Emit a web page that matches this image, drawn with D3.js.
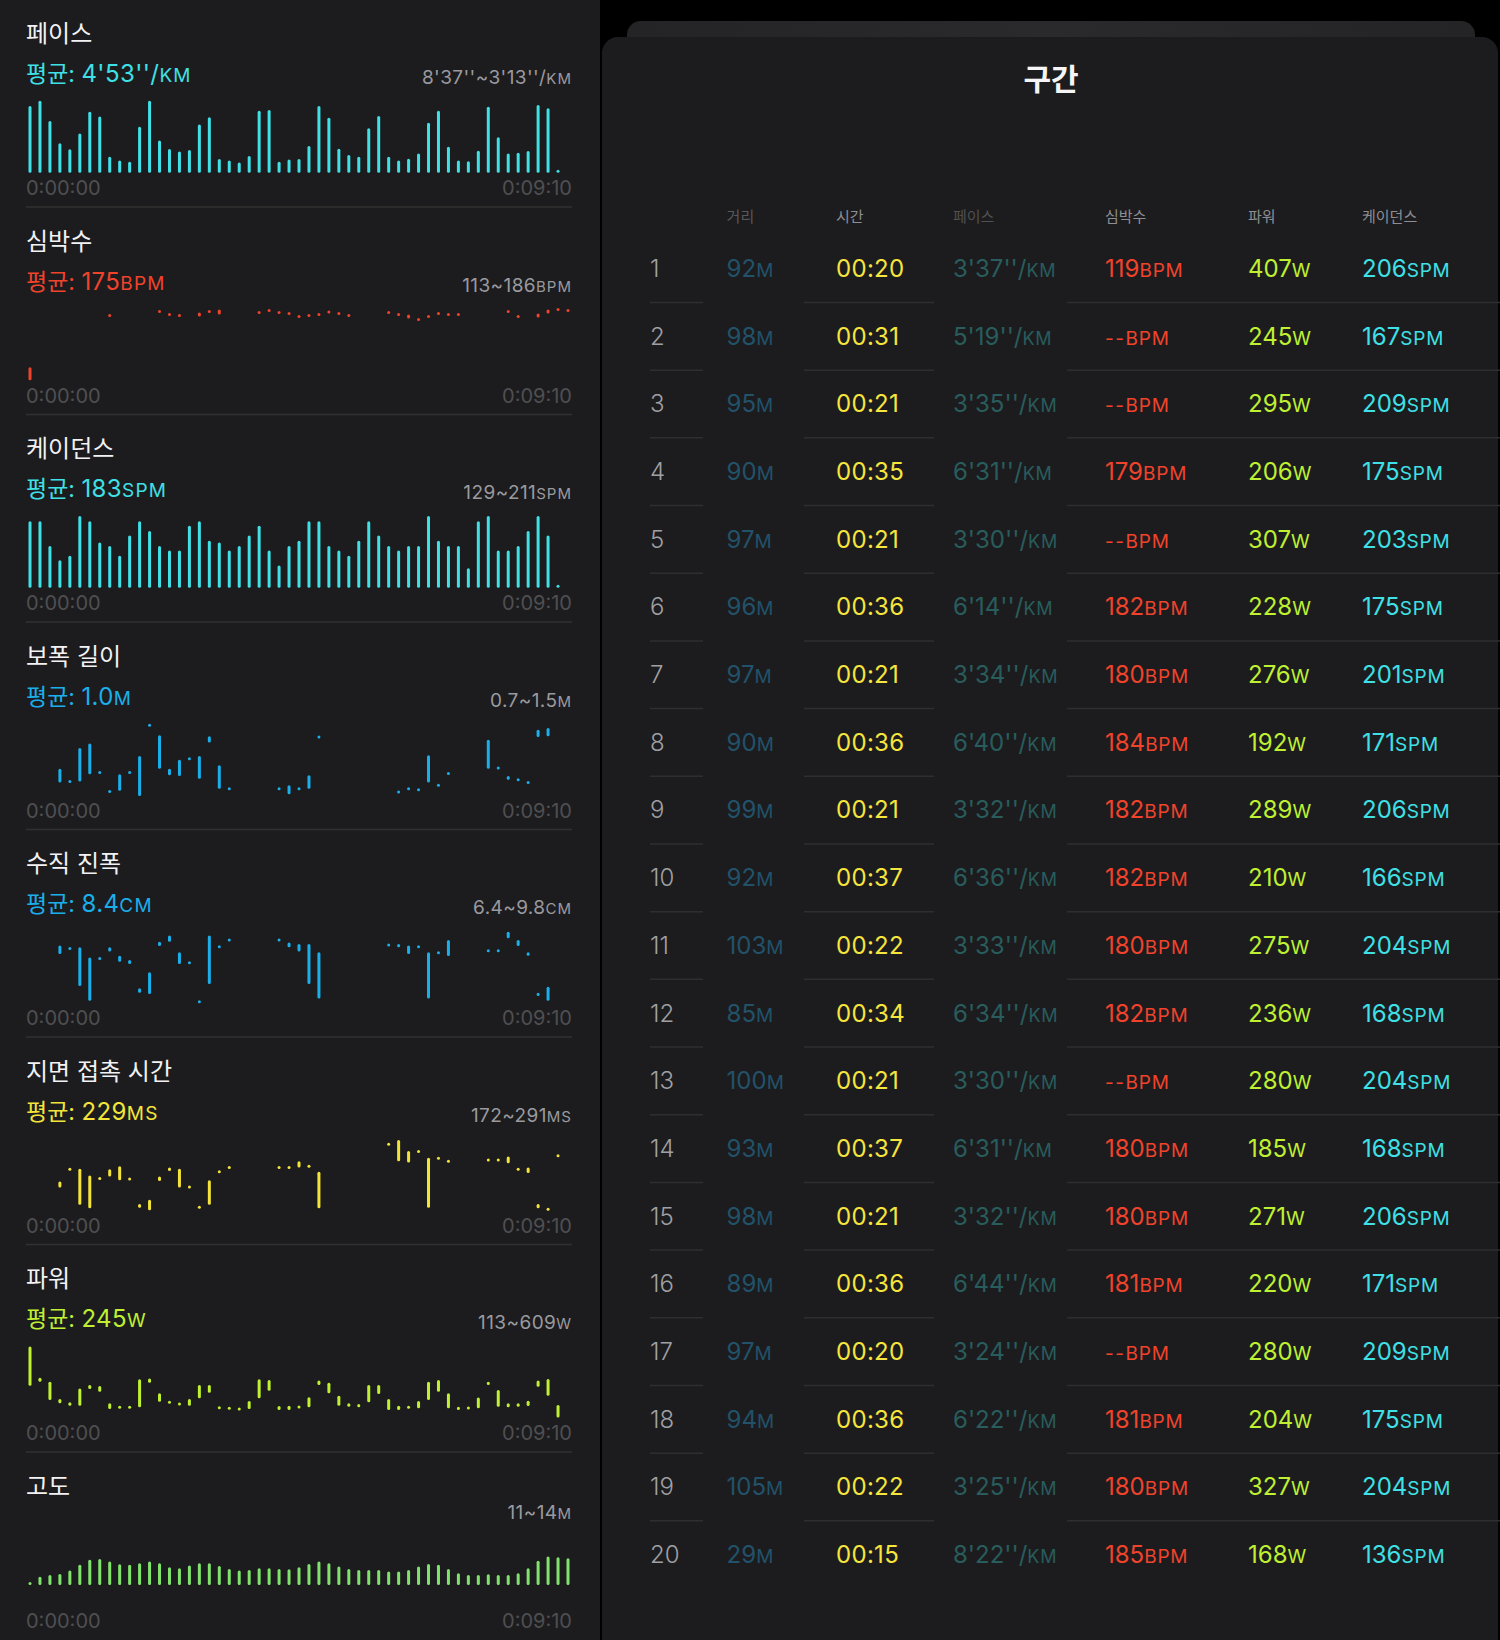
<!DOCTYPE html>
<html><head><meta charset="utf-8">
<script src="https://cdn.jsdelivr.net/npm/d3@7"></script>
<style>
html,body{margin:0;padding:0;background:#000;}
svg{display:block;}
text{font-family: Inter, "Noto Sans CJK KR", sans-serif;}
</style></head><body>
<svg id="c" width="1500" height="1640"></svg>
<script>
// ---------------- DATA ----------------
const timeLabels = ["0:00:00", "0:09:10"];
const binSeconds = 10;

const panelTitles = ["페이스", "심박수", "케이던스", "보폭 길이", "수직 진폭", "지면 접촉 시간", "파워", "고도"];
const avgValues = ["4'53''/", "175", "183", "1.0", "8.4", "229", "245", null];
const avgUnits = ["KM", "BPM", "SPM", "M", "CM", "MS", "W", null];
const rangeValues = ["8'37''~3'13''/", "113~186", "129~211", "0.7~1.5", "6.4~9.8", "172~291", "113~609", "11~14"];
const rangeUnits = ["KM", "BPM", "SPM", "M", "CM", "MS", "W", "M"];
const yDomains = [[517, 193], [113, 186], [129, 211], [0.7, 1.5], [6.4, 9.8], [172, 291], [113, 609], [11, 14]];

// pace, seconds per km, one per 10 s bin
const paceSec = [220,196,287,386,413,342,245,267,446,463,468,312,196,374,411,423,416,302,270,456,
  463,471,443,241,238,468,458,456,398,220,272,410,438,446,319,264,446,463,455,431,
  294,241,401,463,466,419,223,359,431,428,420,215,230,508];
// heart rate [bin, low, high] bpm
const hrSegments = [[0,113,126],[8,178,178],[13,182,182],[14,179,179],[15,178,178],[17,177,181],[18,182,182],
  [19,179,184],[23,181,181],[24,183,183],[25,181,181],[26,180,180],[27,177,177],[28,178,178],[29,179,179],
  [30,180,183],[31,180,180],[32,178,178],[36,181,181],[37,179,179],[38,175,179],[39,174,174],[40,177,177],
  [41,180,180],[42,179,179],[43,179,179],[48,182,182],[49,177,177],[51,176,180],[52,180,184],[53,184,184],[54,183,183]];
// cadence spm per bin
const cadenceSpm = [204,204,176,160,165,210,204,180,176,165,188,204,193,176,171,171,199,204,182,180,
  171,176,188,199,171,154,176,182,204,204,176,171,165,182,204,188,176,171,176,176,
  210,182,176,176,151,204,210,171,171,176,193,210,188,131];
// stride length [bin, low, high] m
const strideSegments = [[3,0.84,0.99],[4,0.85,0.85],[5,0.85,1.22],[6,0.93,1.27],[7,0.95,0.95],[8,0.74,0.74],
  [9,0.75,0.93],[10,0.95,0.95],[11,0.69,1.13],[12,1.47,1.47],[13,0.99,1.36],[14,0.92,0.99],[15,0.91,1.09],
  [16,1.10,1.10],[17,0.88,1.13],[18,1.28,1.35],[19,0.77,1.03],[20,0.77,0.77],[25,0.77,0.77],[26,0.71,0.81],
  [27,0.77,0.77],[28,0.77,0.92],[29,1.34,1.34],[37,0.72,0.75],[38,0.77,0.77],[39,0.76,0.76],[40,0.84,1.14],
  [41,0.81,0.81],[42,0.94,0.94],[46,0.99,1.31],[47,1.00,1.00],[48,0.87,0.91],[49,0.87,0.87],[50,0.84,0.84],
  [51,1.34,1.42],[52,1.35,1.44]];
// vertical oscillation [bin, low, high] cm
const vertSegments = [[3,8.68,9.07],[4,8.94,8.94],[5,7.18,8.99],[6,6.49,8.51],[7,8.47,8.47],[8,8.79,8.99],
  [9,8.32,8.60],[10,8.21,8.40],[11,6.87,7.07],[12,6.81,7.82],[13,9.05,9.25],[14,9.25,9.54],[15,8.21,8.76],
  [16,8.27,8.27],[17,6.45,6.45],[18,7.27,9.54],[19,9.02,9.02],[20,9.33,9.33],[25,9.33,9.33],[26,8.99,9.22],
  [27,8.79,9.15],[28,7.27,9.15],[29,6.60,8.76],[36,9.10,9.10],[37,8.99,9.15],[38,8.68,9.07],[39,9.02,9.02],
  [40,6.60,8.76],[41,8.74,8.74],[42,8.58,9.33],[46,8.83,8.83],[47,8.83,8.83],[48,9.41,9.72],[49,9.05,9.33],
  [50,8.60,8.76],[51,6.71,6.87],[52,6.49,7.15]];
// ground contact time [bin, low, high] ms
const gctSegments = [[3,209,219],[4,239,239],[5,181,240],[6,175,229],[7,224,224],[8,227,239],[9,221,244],
  [10,223,223],[11,176,182],[12,172,189],[13,220,227],[14,236,242],[15,209,240],[16,210,210],[17,175,179],
  [18,181,221],[19,235,235],[20,242,242],[25,242,242],[26,242,242],[27,242,252],[28,244,244],[29,175,235],
  [36,280,280],[37,252,287],[38,250,269],[39,268,268],[40,176,258],[41,257,257],[42,252,252],[46,254,254],
  [47,254,254],[48,249,260],[49,239,239],[50,233,242],[51,175,182],[52,172,175],[53,261,261]];
// power [bin, low, high] W
const powerSegments = [[0,331,598],[1,359,386],[2,234,359],[3,211,240],[4,195,218],[5,195,313],[6,309,336],
  [7,290,329],[8,172,211],[9,184,184],[10,184,184],[11,184,375],[12,352,381],[13,222,279],[14,218,218],
  [15,199,215],[16,195,240],[17,245,336],[18,284,336],[19,181,181],[20,177,177],[21,172,172],[22,172,227],
  [23,245,375],[24,297,370],[25,165,193],[26,165,195],[27,177,195],[28,184,252],[29,336,366],[30,279,352],
  [31,195,263],[32,188,211],[33,184,206],[34,218,336],[35,275,336],[36,165,240],[37,165,195],[38,184,184],
  [39,177,227],[40,234,359],[41,290,370],[42,177,279],[43,165,188],[44,172,188],[45,177,250],[46,336,359],
  [47,188,302],[48,184,211],[49,188,211],[50,193,229],[51,325,366],[52,263,377],[53,115,199]];
// altitude m per bin
const altitudeM = [11.18,11.88,12.06,12.16,12.52,13.12,13.65,13.75,13.47,13.19,13.12,13.29,13.47,13.29,12.87,
  12.76,13.05,13.29,13.29,13.01,12.69,12.52,12.59,12.76,12.76,12.69,12.66,12.87,13.22,13.47,13.29,12.94,
  12.69,12.59,12.59,12.59,12.41,12.41,12.59,12.94,13.22,13.12,12.69,12.24,12.06,12.06,12.13,12.06,12.06,
  12.24,12.76,13.54,14.0,13.93,13.82];

// laps table
const tableTitle = "구간";
const tableHeaders = ["거리", "시간", "페이스", "심박수", "파워", "케이던스"];
const lapNo = d3.range(1, 21);
const lapDist = [92,98,95,90,97,96,97,90,99,92,103,85,100,93,98,89,97,94,105,29];
const lapTime = ["00:20","00:31","00:21","00:35","00:21","00:36","00:21","00:36","00:21","00:37",
  "00:22","00:34","00:21","00:37","00:21","00:36","00:20","00:36","00:22","00:15"];
const lapPace = ["3'37''","5'19''","3'35''","6'31''","3'30''","6'14''","3'34''","6'40''","3'32''","6'36''",
  "3'33''","6'34''","3'30''","6'31''","3'32''","6'44''","3'24''","6'22''","3'25''","8'22''"];
const lapHR = [119,null,null,179,null,182,180,184,182,182,180,182,null,180,180,181,null,181,180,185];
const lapPower = [407,245,295,206,307,228,276,192,289,210,275,236,280,185,271,220,280,204,327,168];
const lapCadence = [206,167,209,175,203,175,201,171,206,166,204,168,204,168,206,171,209,175,204,136];

// ---------------- STYLE ----------------
const C = {
  cyan: "#3fe0e6", red: "#f0432c", blue: "#1aafea", yellow: "#f4e43a",
  power: "#bff032", alt: "#80e36c", time: "#f6e53c", dist: "#22526a", pace: "#295d5d"
};
const panelColors = [C.cyan, C.red, C.cyan, C.blue, C.blue, C.yellow, C.power, C.alt];

const svg = d3.select("#c");
svg.append("rect").attr("width", 1500).attr("height", 1640).attr("fill", "#000");
svg.append("rect").attr("x", 0).attr("y", 0).attr("width", 600).attr("height", 1640).attr("fill", "#1c1c1e");

// parts: [text, size, fill, letterSpacing]
function rich(g, x, y, parts, anchor) {
  const t = g.append("text").attr("x", x).attr("y", y).attr("text-anchor", anchor || "start");
  parts.forEach(p => {
    t.append("tspan").attr("font-size", p[1]).attr("fill", p[2])
      .attr("letter-spacing", p[3] || 0).text(p[0]);
  });
  return t;
}

// ---------------- LEFT PANELS ----------------
const x = d3.scaleLinear().domain([0, 54 * binSeconds]).range([30, 568]);
const PH = 207.5;
const barW = 3;

function drawBars(g, vals, y, base, color) {
  g.selectAll("rect.b").data(vals).join("rect").attr("class", "b")
    .attr("x", (d, i) => x(i * binSeconds) - barW / 2)
    .attr("width", barW)
    .attr("y", d => Math.min(y(d), base - barW))
    .attr("height", d => Math.max(base - y(d), barW))
    .attr("rx", barW / 2).attr("fill", color);
}
function drawSegs(g, segs, y, color) {
  g.selectAll("rect.s").data(segs).join("rect").attr("class", "s")
    .attr("x", d => x(d[0] * binSeconds) - barW / 2)
    .attr("width", barW)
    .attr("y", d => {
      const y1 = y(d[2]), y2 = y(d[1]);
      return (y2 - y1 < barW) ? (y1 + y2) / 2 - barW / 2 : y1;
    })
    .attr("height", d => Math.max(y(d[1]) - y(d[2]), barW))
    .attr("rx", barW / 2).attr("fill", color);
}

panelTitles.forEach((title, k) => {
  const top = k * PH;
  const g = svg.append("g");
  const isAlt = k === 7;
  g.append("text").attr("x", 26).attr("y", top + 42).attr("font-size", 24)
    .attr("fill", "#f2f2f4").text(title);
  if (avgValues[k] !== null) {
    rich(g, 26, top + 82, [["평균: ", 23, panelColors[k]], [avgValues[k], 24, panelColors[k], 0.4],
      [avgUnits[k], 19, panelColors[k], 1.2]]);
  }
  rich(g, 572, top + (isAlt ? 66 : 84), [[rangeValues[k], 19, "#9a9a9e", 0.4], [rangeUnits[k], 15, "#9a9a9e", 1]], "end");
  const lblY = top + (isAlt ? 175 : 195);
  g.append("text").attr("x", 26).attr("y", lblY).attr("font-size", 20).attr("fill", "#4f4f51").text(timeLabels[0]);
  g.append("text").attr("x", 572).attr("y", lblY).attr("font-size", 20).attr("fill", "#4f4f51")
    .attr("text-anchor", "end").text(timeLabels[1]);
  if (!isAlt) {
    g.append("line").attr("x1", 26).attr("x2", 572).attr("y1", top + 207).attr("y2", top + 207)
      .attr("stroke", "#303032").attr("stroke-width", 1.5);
  }
  const base = top + (isAlt ? 132.5 : 172.7);
  const ptop = isAlt ? base - 28.5 : top + 100;
  const y = d3.scaleLinear().domain(yDomains[k]).range([base, ptop]);
  if (k === 0) drawBars(g, paceSec, y, base, panelColors[k]);
  if (k === 1) drawSegs(g, hrSegments, y, panelColors[k]);
  if (k === 2) drawBars(g, cadenceSpm, y, base, panelColors[k]);
  if (k === 3) drawSegs(g, strideSegments, y, panelColors[k]);
  if (k === 4) drawSegs(g, vertSegments, y, panelColors[k]);
  if (k === 5) drawSegs(g, gctSegments, y, panelColors[k]);
  if (k === 6) drawSegs(g, powerSegments, y, panelColors[k]);
  if (k === 7) drawBars(g, altitudeM, y, base, panelColors[k]);
});

// ---------------- RIGHT TABLE ----------------
const defs = svg.append("defs");
const grad = defs.append("linearGradient").attr("id", "bk");
grad.append("stop").attr("offset", "0%").attr("stop-color", "#242426");
grad.append("stop").attr("offset", "50%").attr("stop-color", "#2a2a2c");
grad.append("stop").attr("offset", "100%").attr("stop-color", "#242426");
svg.append("rect").attr("x", 627).attr("y", 21).attr("width", 848).attr("height", 60).attr("rx", 14).attr("fill", "url(#bk)");
svg.append("rect").attr("x", 602).attr("y", 37).attr("width", 896).attr("height", 1640).attr("rx", 16).attr("fill", "#1c1c1e");

const tg = svg.append("g");
tg.append("text").attr("x", 1051).attr("y", 90).attr("text-anchor", "middle").attr("font-size", 30)
  .attr("font-weight", 600).attr("fill", "#f5f5f7").text(tableTitle);

const colX = [726.6, 836, 953, 1105, 1248, 1362];
const headColors = ["#58585a", "#8e8e92", "#505052", "#8e8e92", "#8e8e92", "#8e8e92"];
tableHeaders.forEach((h, i) => {
  tg.append("text").attr("x", colX[i]).attr("y", 222).attr("font-size", 15).attr("fill", headColors[i]).text(h);
});

const rowY = d3.scaleLinear().domain([1, 20]).range([277, 1563]);
const sepSegs = [[650, 703], [804, 934], [1067, 1500]];
const U = 19, US = 0.8;
lapNo.forEach((n, i) => {
  const yy = rowY(n);
  tg.append("text").attr("x", 650).attr("y", yy).attr("font-size", 24).attr("font-weight", 300)
    .attr("fill", "#a0a0a4").text(n);
  rich(tg, colX[0], yy, [[String(lapDist[i]), 24, C.dist], ["M", U, C.dist, US]]);
  rich(tg, colX[1], yy, [[lapTime[i], 24, C.time, 0.3]]);
  rich(tg, colX[2], yy, [[lapPace[i] + "/", 24, C.pace], ["KM", 18, C.pace, US]]);
  if (lapHR[i] === null) rich(tg, colX[3], yy, [["--", 19, C.red, 1.5], ["BPM", U, C.red, US]]);
  else rich(tg, colX[3], yy, [[String(lapHR[i]), 24, C.red], ["BPM", U, C.red, US]]);
  rich(tg, colX[4], yy, [[String(lapPower[i]), 24, C.power], ["W", U, C.power, US]]);
  rich(tg, colX[5], yy, [[String(lapCadence[i]), 24, C.cyan], ["SPM", U, C.cyan, US]]);
  if (n < 20) {
    sepSegs.forEach(s => {
      tg.append("line").attr("x1", s[0]).attr("x2", s[1]).attr("y1", yy + 25.5).attr("y2", yy + 25.5)
        .attr("stroke", "#2e2e30").attr("stroke-width", 1.5);
    });
  }
});
</script>
</body></html>
